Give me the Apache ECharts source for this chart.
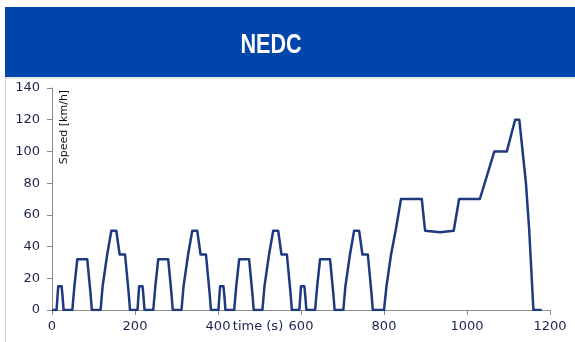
<!DOCTYPE html>
<html>
<head>
<meta charset="utf-8">
<script src="https://cdn.jsdelivr.net/npm/echarts@6/dist/echarts.min.js"></script>
<style>
  html, body { margin: 0; padding: 0; background: #fff; }
  #chart { width: 575px; height: 342px; }
</style>
</head>
<body>
<div id="chart"></div>
<script>
// NEDC speed profile: 4 x ECE-15 urban cycles + EUDC
const timeS = [
  0, 11, 15, 23, 25, 28, 49, 54, 56, 61, 85, 93, 96, 117, 122, 124, 133, 135, 143, 155, 163, 176, 185, 188,
  206, 210, 218, 220, 223, 244, 249, 251, 256, 280, 288, 291, 312, 317, 319, 328, 330, 338, 350, 358, 371, 380, 383,
  401, 405, 413, 415, 418, 439, 444, 446, 451, 475, 483, 486, 507, 512, 514, 523, 525, 533, 545, 553, 566, 575, 578,
  596, 600, 608, 610, 613, 634, 639, 641, 646, 670, 678, 681, 702, 707, 709, 718, 720, 728, 740, 748, 761, 770, 773,
  800, 806, 808, 817, 819, 828, 830, 841, 891, 899, 935, 968, 981, 1031, 1066, 1096, 1116, 1126, 1142, 1150, 1160, 1180
];
const speedKmh = [
  0, 0, 15, 15, 10, 0, 0, 15, 15, 32, 32, 10, 0, 0, 15, 15, 35, 35, 50, 50, 35, 35, 10, 0,
  0, 15, 15, 10, 0, 0, 15, 15, 32, 32, 10, 0, 0, 15, 15, 35, 35, 50, 50, 35, 35, 10, 0,
  0, 15, 15, 10, 0, 0, 15, 15, 32, 32, 10, 0, 0, 15, 15, 35, 35, 50, 50, 35, 35, 10, 0,
  0, 15, 15, 10, 0, 0, 15, 15, 32, 32, 10, 0, 0, 15, 15, 35, 35, 50, 50, 35, 35, 10, 0,
  0, 15, 15, 35, 35, 50, 50, 70, 70, 50, 49, 50, 70, 70, 100, 100, 120, 120, 80, 50, 0, 0
];
const xTicks = { min: 0, max: 1200, step: 200 };
const yTicks = { min: 0, max: 140, step: 20 };

const chart = echarts.init(document.getElementById('chart'))
const labelFont = 'DejaVu Sans, sans-serif'

const option = {
  animation: false,
  grid: { left: 52, right: 25, top: 88, bottom: 32, containLabel: false, outerBoundsMode: 'none' },
  graphic: [
    // blue banner with title
    { type: 'rect', shape: { x: 5, y: 7, width: 575, height: 70 }, style: { fill: '#0046AA' }, z: -1 },
    { type: 'line', shape: { x1: 5, y1: 78, x2: 575, y2: 78 }, style: { stroke: '#d0d0d0', lineWidth: 1 } },
    { type: 'line', shape: { x1: 5.5, y1: 77, x2: 5.5, y2: 342 }, style: { stroke: '#d0d0d0', lineWidth: 1 } },
    {
      type: 'text', x: 271, y: 46, scaleX: 0.8,
      style: { text: 'NEDC', fill: '#fff', font: 'bold 27px Liberation Sans, Arial, sans-serif', textAlign: 'center', textVerticalAlign: 'middle' }
    },
    {
      type: 'text', x: 64, y: 127, rotation: Math.PI / 2,
      style: { text: 'Speed [km/h]', fill: '#111', font: '11px DejaVu Sans, sans-serif', textAlign: 'center', textVerticalAlign: 'middle' }
    }
  ],
  xAxis: {
    type: 'value',
    min: xTicks.min, max: xTicks.max, interval: xTicks.step,
    name: 'time (s)',
    nameLocation: 'middle',
    nameGap: 10,
    nameMoveOverlap: false,
    nameTextStyle: { fontFamily: labelFont, fontSize: 13, color: '#1b2450', padding: [0, 86, 0, 0] },
    axisLine: { lineStyle: { color: '#8c8c8c', width: 1 } },
    axisTick: { length: 5, lineStyle: { color: '#8c8c8c' } },
    axisLabel: { margin: 10, fontFamily: labelFont, fontSize: 13, color: '#1b2450', formatter: v => String(v) },
    splitLine: { show: false }
  },
  yAxis: {
    type: 'value',
    min: yTicks.min, max: yTicks.max, interval: yTicks.step,
    axisLine: { show: true, lineStyle: { color: '#8c8c8c', width: 1 } },
    axisTick: { show: true, length: 5, lineStyle: { color: '#8c8c8c' } },
    axisLabel: { margin: 12, fontFamily: labelFont, fontSize: 13, color: '#1b2450', formatter: v => String(v) },
    splitLine: { show: false }
  },
  series: [
    {
      type: 'line',
      data: timeS.map((t, i) => [t, speedKmh[i]]),
      showSymbol: false,
      lineStyle: { color: '#1E3A7E', width: 2.5, join: 'round' }
    }
  ]
}

chart.setOption(option)
</script>
</body>
</html>
